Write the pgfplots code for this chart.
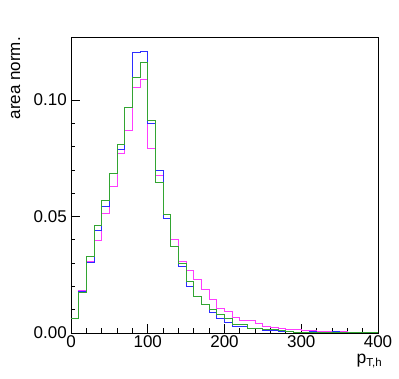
\documentclass[border=0pt]{standalone}
\usepackage{fontspec}
\setmainfont{Liberation Sans}
\usepackage{pgfplots}
\usepackage{pgfplotstable}
\pgfplotsset{compat=1.18}

\definecolor{hblue}{RGB}{45,45,255}
\definecolor{hmag}{RGB}{255,60,255}
\definecolor{hgreen}{RGB}{50,165,50}

% bin left edge, then the three normalised histograms
\pgfplotstableread{
x   blue    green   mag
0   0.0062  0.0063  0.0063
10  0.0180  0.0174  0.0182
20  0.0305  0.0330  0.0307
30  0.0440  0.0461  0.0397
40  0.0543  0.0570  0.0512
50  0.0685  0.0686  0.0629
60  0.0787  0.0808  0.0772
70  0.0968  0.0968  0.0872
80  0.1206  0.1097  0.1054
90  0.1209  0.1163  0.1091
100 0.0901  0.0914  0.0794
110 0.0698  0.0648  0.0675
120 0.0493  0.0511  0.0511
130 0.0371  0.0371  0.0400
140 0.0288  0.0300  0.0307
150 0.0201  0.0223  0.0268
160 0.0156  0.0156  0.0229
170 0.0124  0.0124  0.0186
180 0.0089  0.0102  0.0146
190 0.0064  0.0081  0.0104
200 0.0046  0.0061  0.0091
210 0.0030  0.0038  0.0069
220 0.0030  0.0038  0.0055
230 0.0021  0.0021  0.0053
240 0.0019  0.0021  0.0042
250 0.0013  0.0017  0.0028
260 0.0011  0.0014  0.0025
270 0.0008  0.0010  0.0021
280 0.0006  0.0008  0.0017
290 0.0004  0.0004  0.0017
300 0.0004  0.0004  0.0013
310 0.0005  0.0003  0.0010
320 0.0003  0.0003  0.0008
330 0.0002  0.0002  0.0006
340 0.0008  0.0002  0.0005
350 0.0002  0.0001  0.0008
360 0.0001  0.0001  0.0004
370 0.0002  0.0001  0.0003
380 0.0001  0.0001  0.0002
390 0.0001  0.0001  0.0001
400 0.0001  0.0001  0.0001
}\histos

\begin{document}
\begin{tikzpicture}
\path[use as bounding box] (-71bp,-46bp) rectangle (328bp,333bp);
\begin{axis}[
    at={(0,0)}, anchor=south west,
    scale only axis,
    width=307bp, height=296bp,
    xmin=0, xmax=400,
    ymin=0, ymax=0.1271,
    xtick={0,100,200,300,400},
    ytick={0,0.05,0.1},
    minor x tick num=4,
    minor y tick num=4,
    tick pos=left,
    tick align=inside,
    major tick length=9bp,
    minor tick length=4.5bp,
    tick style={black, line width=0.8bp},
    axis line style={line width=0.9bp},
    scaled y ticks=false,
    /pgf/number format/assume math mode=true,
    ticklabel style={font=\fontsize{17bp}{17bp}\selectfont, inner sep=0pt},
    yticklabel style={/pgf/number format/fixed,
        /pgf/number format/fixed zerofill,
        /pgf/number format/precision=2,
        anchor=east, xshift=-4bp},
    xticklabel style={anchor=north, yshift=-2bp},
    xlabel={p\raisebox{-3.6bp}{\fontsize{11.5bp}{11.5bp}\selectfont T,h}},
    xlabel style={at={(axis description cs:1.013,-0.1024)}, anchor=base east,
        inner sep=0pt, font=\fontsize{17.5bp}{17.5bp}\selectfont},
    ylabel={area norm.},
    ylabel style={at={(axis description cs:-0.1661,1)}, anchor=base east,
        inner sep=0pt, font=\fontsize{17bp}{17bp}\selectfont},
    every axis plot/.append style={const plot, mark=none, line width=0.8bp},
]
\addplot[hmag] table[x=x, y=mag] {\histos};
\addplot[hblue] table[x=x, y=blue] {\histos};
\addplot[hgreen] table[x=x, y=green] {\histos};
\end{axis}
\end{tikzpicture}
\end{document}
